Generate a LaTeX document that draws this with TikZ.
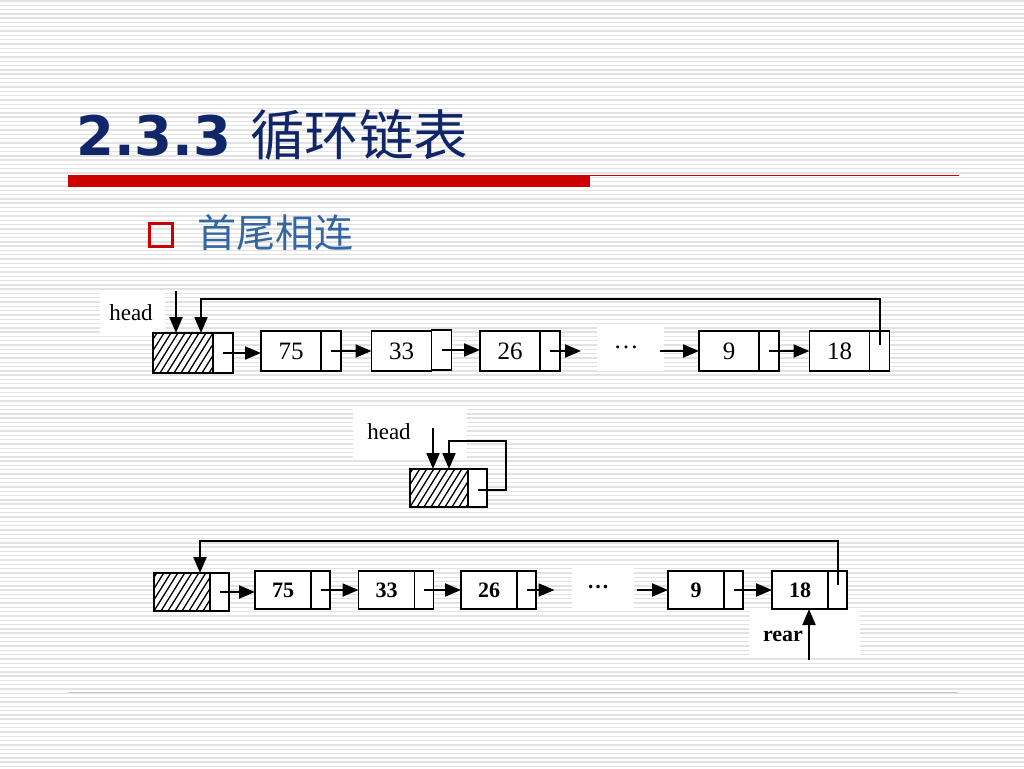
\documentclass[tikz,border=0pt]{standalone}
\usepackage{fontspec}
\setmainfont{Liberation Serif}
\newfontfamily\titlefont{DejaVu Sans}
\newfontfamily\cjk{Noto Sans CJK SC}
\usetikzlibrary{arrows.meta,calc}
\definecolor{navy}{RGB}{16,38,104}
\definecolor{subblue}{RGB}{51,102,160}
\definecolor{slidered}{RGB}{204,0,0}
\definecolor{stripegray}{RGB}{226,226,226}
\definecolor{rulegray}{RGB}{214,196,196}
\tikzset{
  stripe/.style={draw=stripegray, line width=1.4pt},
  bgbox/.style={fill=white, draw=none},
  box/.style={draw, fill=white, line width=1.7pt, inner sep=0pt, outer sep=0pt},
  dat/.style={box, minimum width=60pt, minimum height=40pt, font=\fontsize{25}{25}\selectfont},
  ptr/.style={box, minimum width=20pt, minimum height=40pt, anchor=west},
  bdat/.style={box, minimum width=56pt, minimum height=38pt, font=\fontsize{22}{22}\selectfont\bfseries},
  bptr/.style={box, minimum width=19pt, minimum height=38pt, anchor=west},
  hatch/.style={box, path picture={
      \foreach \k in {-5,...,9}{
        \draw[line width=1.3pt] ([xshift=\k*7pt]path picture bounding box.south west) -- ++(58:70pt);
      }}},
  arr/.style={line width=2pt, -{Triangle[length=16pt,width=13pt]}},
  lnk/.style={line width=2pt, -{Triangle[length=16pt,width=13pt]}},
  lbl/.style={inner sep=0pt, font=\fontsize{23}{23}\selectfont},
  blbl/.style={inner sep=0pt, font=\fontsize{22}{22}\selectfont\bfseries},
  dots/.style={inner sep=0pt, font=\fontsize{25}{25}\selectfont},
  bdots/.style={inner sep=0pt, font=\fontsize{22}{22}\selectfont\bfseries},
}
\begin{document}
\begin{tikzpicture}[x=1pt,y=-1pt]
\useasboundingbox (0,0) rectangle (1024,768);
\fill[white] (0,0) rectangle (1024,768);
\foreach \i in {0,...,178} \draw[stripe] (0,{\i*4.3+1}) -- (1024,{\i*4.3+1});

% title
\node[anchor=base west, inner sep=0pt, text=navy] (title) at (76,155)
  {\fontsize{54.5}{54.5}\selectfont\titlefont\bfseries 2.3.3\hspace{19pt}\cjk\mdseries\fontsize{54.5}{54.5}\selectfont 循环链表};
\fill[slidered] (68,175) rectangle (590,187);
\draw[slidered, line width=1.2pt] (590,175.6) -- (959,175.6);

% bullet
\draw[slidered, line width=3pt] (149.5,223.5) rectangle (172.5,246.5);
\node[anchor=base west, inner sep=0pt, text=subblue] (sub) at (197,247)
  {\fontsize{39}{39}\selectfont\cjk 首尾相连};

% bottom rule
\draw[rulegray, line width=1pt] (68,692) -- (958,692);

% white background patches
\fill[bgbox] (100,290) rectangle (165,336);
\fill[bgbox] (597,324) rectangle (664,371);
\fill[bgbox] (353,408) rectangle (467,458);
\fill[bgbox] (572,566) rectangle (634,608);
\fill[bgbox] (749,610) rectangle (860,658);

% ---------- top list ----------
\node[hatch, minimum width=60pt, minimum height=40pt] (h1) at (183,353) {};
\node[ptr] (hp1) at (h1.east) {};
\node[dat] (a75) at (291,351) {75};
\node[ptr] (ap75) at (a75.east) {};
\node[dat] (a33) at (401.5,351) {33};
\node[ptr] (ap33) at ([yshift=1pt]a33.east) {};
\node[dat] (a26) at (510,351) {26};
\node[ptr] (ap26) at (a26.east) {};
\node[dots] (adots) at (626,347) {…};
\node[dat] (a9) at (729,351) {9};
\node[ptr] (ap9) at (a9.east) {};
\node[dat] (a18) at (839.5,351) {18};
\node[ptr] (ap18) at (a18.east) {};
\node[lbl] (ahead) at (131,313) {head};

\draw[lnk] (hp1.center) -- (a75.west |- hp1.center);
\draw[lnk] (ap75.center) -- (a33.west |- ap75.center);
\draw[lnk] (ap33.center) -- (a26.west |- ap33.center);
\draw[lnk] (ap26.center) -- ++(31,0) coordinate (adin);
\draw[lnk] ($(a9.west)+(-39,0)$) coordinate (adout) -- (a9.west);
\draw[lnk] (ap9.center) -- (a18.west);
\draw[arr] ([shift={(-7,-42)}]h1.north) -- ([xshift=-7pt]h1.north);
\draw[arr] ([yshift=6pt]ap18.center) -- ++(0,-46) -| ([xshift=18pt]h1.north);

% ---------- middle (empty list) ----------
\node[hatch, minimum width=58pt, minimum height=38pt] (h2) at (439,488) {};
\node[ptr, minimum width=19pt, minimum height=38pt] (hp2) at (h2.east) {};
\node[lbl] (mhead) at (389,432) {head};
\draw[arr] ([shift={(-6,-41)}]h2.north) -- ([xshift=-6pt]h2.north);
\draw[arr] ([yshift=-2pt]hp2.center) -- ++(28,0) -- ++(0,-49) -| ([xshift=10pt]h2.north);

% ---------- bottom list ----------
\node[hatch, minimum width=56pt, minimum height=38pt] (h3) at (182,592) {};
\node[bptr] (hp3) at (h3.east) {};
\node[bdat] (b75) at (283,590) {75};
\node[bptr] (bp75) at (b75.east) {};
\node[bdat] (b33) at (386.5,590) {33};
\node[bptr] (bp33) at (b33.east) {};
\node[bdat] (b26) at (489,590) {26};
\node[bptr] (bp26) at (b26.east) {};
\node[bdots] (bdotsn) at (598,587) {…};
\node[bdat] (b9) at (696,590) {9};
\node[bptr] (bp9) at (b9.east) {};
\node[bdat] (b18) at (800,590) {18};
\node[bptr] (bp18) at (b18.east) {};
\node[blbl] (rear) at (783,636) {rear};

\draw[lnk] (hp3.center) -- (b75.west |- hp3.center);
\draw[lnk] (bp75.center) -- (b33.west);
\draw[lnk] (bp33.center) -- (b26.west);
\draw[lnk] (bp26.center) -- ++(28,0) coordinate (bdin);
\draw[lnk] ($(b9.west)+(-31,0)$) coordinate (bdout) -- (b9.west);
\draw[lnk] (bp9.center) -- (b18.west);
\draw[arr] ([yshift=5pt]bp18.center) -- ++(0,-44) -| ([xshift=18pt]h3.north);
\draw[arr] ([shift={(9,51)}]b18.south) -- ([xshift=9pt]b18.south);
\end{tikzpicture}
\end{document}
